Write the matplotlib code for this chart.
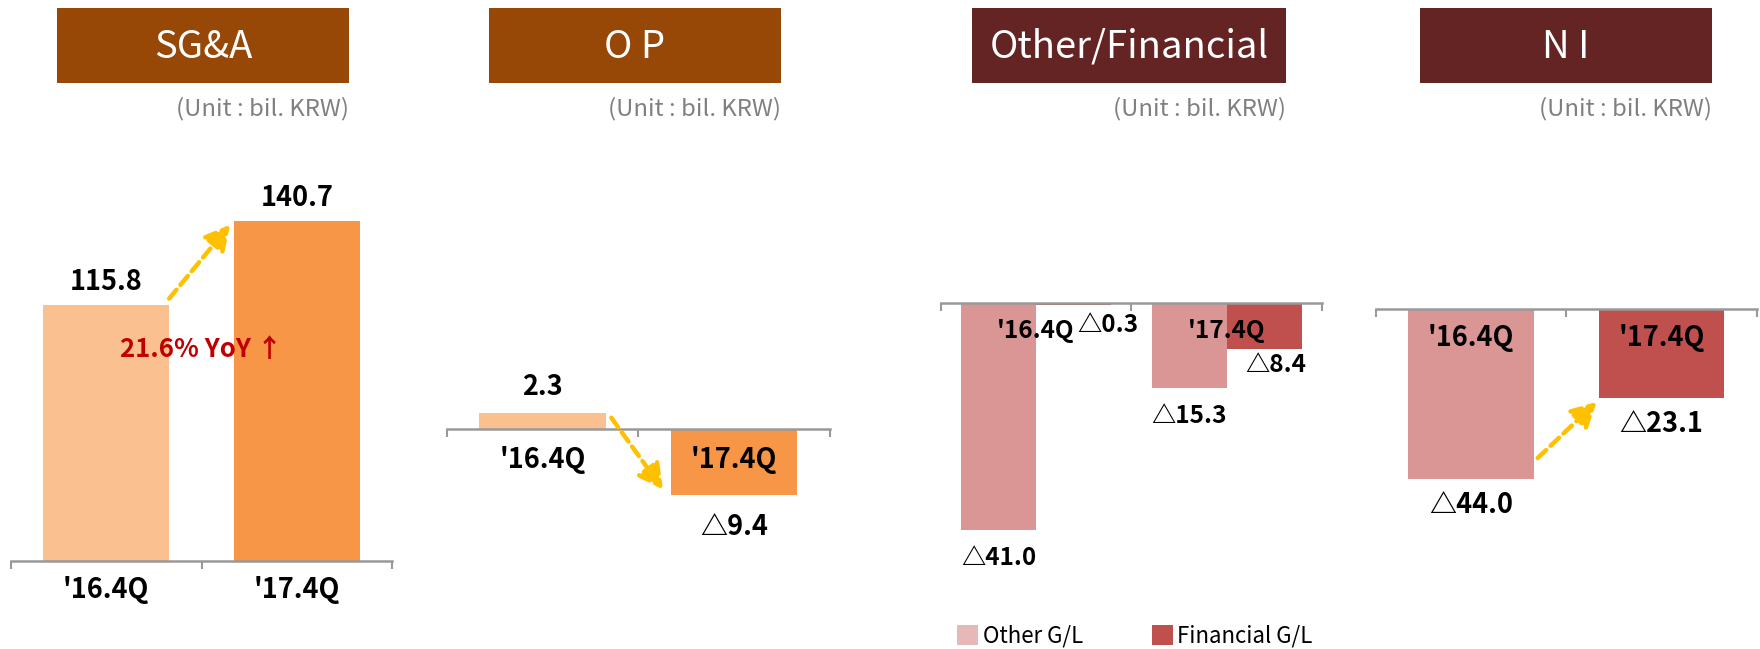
import numpy as np
import matplotlib
matplotlib.use("Agg")
import matplotlib.pyplot as plt
from matplotlib.patches import Rectangle, Patch

W, H = 1760, 649
plt.rcParams["font.family"] = ["Noto Sans CJK KR", "DejaVu Sans"]

ORG_DARK = "#974706"; RED_DARK = "#632423"
PEACH = "#FAC090"; ORANGE = "#F79646"
PINK = "#D99694"; RED = "#C0504D"; PINK_LT = "#E6B9B8"
GOLD = "#FFC000"; AXC = "#999999"; GREY_TXT = "#808080"; YOY_RED = "#C00000"

# ---- data ----
quarters = ["'16.4Q", "'17.4Q"]
sga = [115.8, 140.7]
op = [2.3, -9.4]
other_gl = [-41.0, -15.3]
fin_gl = [-0.3, -8.4]
ni = [-44.0, -23.1]
titles = ["SG&A", "O P", "Other/Financial", "N I"]
legend_labels = ["Other G/L", "Financial G/L"]
yoy_text = "21.6% YoY \u2191"
unit_text = "(Unit : bil. KRW)"


def fmt(v):
    return f"{v:.1f}" if v >= 0 else f"\u25b3{abs(v):.1f}"


fig = plt.figure(figsize=(W / 100, H / 100), dpi=100)
fig.patch.set_facecolor("white")

LBL = dict(fontsize=19.5, fontweight="bold", color="black", ha="center", va="center")


def panel(x0, x1, y0, s, base=0.0, top=115, bot=600):
    # axes placed in figure pixels; y-scale s = pixels per unit, axis line at pixel y0
    ax = fig.add_axes([x0 / W, 1 - bot / H, (x1 - x0) / W, (bot - top) / H])
    ax.set_xlim(-0.5, 1.5)
    ax.set_ylim(base - (bot - y0) / s, base + (y0 - top) / s)
    for sp in ["top", "right", "left"]:
        ax.spines[sp].set_visible(False)
    ax.spines["bottom"].set_position(("data", base))
    ax.spines["bottom"].set_color(AXC)
    ax.spines["bottom"].set_linewidth(1.8)
    ax.set_xticks([-0.5, 0.5, 1.5])
    ax.set_xticklabels([])
    ax.tick_params(axis="x", direction="out", length=5.5, width=1.5, color=AXC)
    ax.set_yticks([])
    ax.patch.set_alpha(0)
    return ax


def lab(ax, text, x, y, dx=0, dy=0, **kw):
    d = dict(LBL); d.update(kw)
    ax.annotate(text, xy=(x, y), xytext=(dx, dy), textcoords="offset points",
                annotation_clip=False, **d)


def arrow(ax, p0, p1):
    ax.annotate("", xy=p1, xytext=p0, annotation_clip=False,
                arrowprops=dict(arrowstyle="-|>,head_length=0.75,head_width=0.4",
                                mutation_scale=20, color=GOLD, lw=3.2,
                                ls=(0, (2.6, 1.4)), shrinkA=0, shrinkB=0))


# ---- headers ----
boxes = [(57, 349, ORG_DARK), (489, 781, ORG_DARK), (972, 1286, RED_DARK), (1420, 1712, RED_DARK)]
for (bx0, bx1, c), t in zip(boxes, titles):
    fig.add_artist(Rectangle((bx0 / W, 1 - 83 / H), (bx1 - bx0) / W, 75 / H,
                             transform=fig.transFigure, color=c, lw=0))
    fig.text((bx0 + bx1) / 2 / W, 1 - 47 / H, t, color="white", fontsize=27.5,
             ha="center", va="center")
    fig.text(bx1 / W, 1 - 109 / H, unit_text, color=GREY_TXT, fontsize=17.2,
             ha="right", va="center")

x = np.arange(len(quarters))
w = 0.66

# ---- SG&A ----
ax1 = panel(11, 392, 561, 3.373, base=40, top=115, bot=561)
ax1.bar(x, sga, width=w, color=[PEACH, ORANGE])
for i, v in enumerate(sga):
    lab(ax1, fmt(v), i, v, dy=16.5)
    lab(ax1, quarters[i], i, 40, dy=-21)
lab(ax1, yoy_text, 0.5, sga[0], dy=-31.5, fontsize=18.5, color=YOY_RED)
arrow(ax1, (w / 2, sga[0] + 2), (1 - w / 2 - 0.02, sga[1] - 1))

# ---- OP ----
ax2 = panel(446.7, 829.5, 429, 7.0)
ax2.bar(x, op, width=w, color=[PEACH, ORANGE])
lab(ax2, fmt(op[0]), 0, op[0], dy=18.5)
lab(ax2, fmt(op[1]), 1, op[1], dy=-23)
for i in x:
    lab(ax2, quarters[i], i, 0, dy=-22.3)
arrow(ax2, (0.36, op[0] * 0.7), (0.63, op[1] * 0.92))

# ---- Other / Financial ----
ax3 = panel(940.6, 1322.2, 303, 5.53)
bw = 0.394
ax3.bar(x - bw / 2, other_gl, width=bw, color=PINK)
ax3.bar(x + bw / 2, fin_gl, width=bw, color=RED)
for i in x:
    lab(ax3, quarters[i], i, 0, dy=-20, fontsize=17.5)
    lab(ax3, fmt(other_gl[i]), i - bw / 2, other_gl[i], dy=-20.5, fontsize=17.5)
lab(ax3, fmt(fin_gl[0]), bw / 2, fin_gl[0], dx=25, dy=-14.5, fontsize=17.5)
lab(ax3, fmt(fin_gl[1]), 1 + bw / 2, fin_gl[1], dx=8, dy=-11.5, fontsize=17.5)
handles = [Patch(facecolor=PINK_LT, lw=0), Patch(facecolor=RED, lw=0)]
fig.legend(handles, legend_labels, loc="center left", bbox_to_anchor=(957 / W, 1 - 636 / H),
           ncol=2, frameon=False, fontsize=16, handlelength=0.95, handleheight=1.05,
           handletextpad=0.2, columnspacing=3.1, borderaxespad=0, borderpad=0)

# ---- NI ----
ax4 = panel(1376, 1756.5, 309, 3.87)
ax4.bar(x, ni, width=w, color=[PINK, RED])
for i, v in enumerate(ni):
    lab(ax4, quarters[i], i, 0, dy=-21)
    lab(ax4, fmt(v), i, v, dy=-18.5)
arrow(ax4, (0.35, ni[0] + 5.5), (0.66, ni[1] - 0.9))

fig.savefig("out.png", dpi=100)
